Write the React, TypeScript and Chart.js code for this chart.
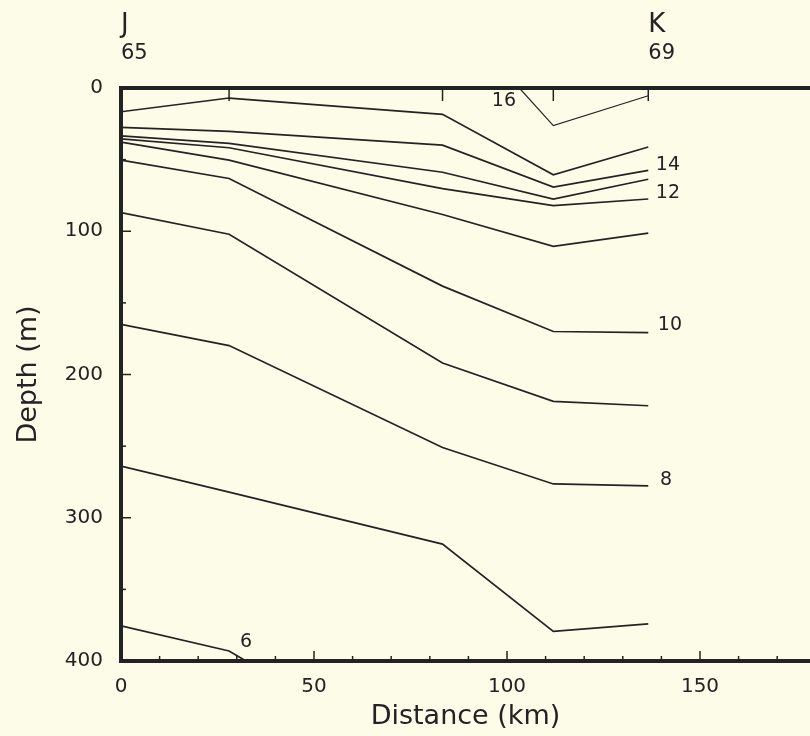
import React, { useEffect, useRef } from 'react';
import { Chart, registerables } from 'chart.js';

Chart.register(...registerables);

// Station positions along the section (km) and their labels
const stations = [0, 28, 83.3, 112, 136.6];
const stationNumbers = ['65', '', '', '', '69'];
const letterStations = [0, 136.6];
const stationLetters = ['J', 'K'];

// Isotherm depths (m) at each station
const iso15 = [16.6, 7.0, 18.4, 60.6, 41.2];
const iso14 = [27.5, 30.3, 39.9, 69.2, 57.5];
const iso13 = [33.4, 38.6, 58.8, 77.5, 63.7];
const iso12 = [35.5, 41.7, 70.2, 82.1, 77.5];
const iso11 = [37.8, 50.3, 88.3, 110.6, 101.3];
const iso10 = [50.3, 63.2, 138.3, 170.0, 170.7];
const iso9 = [87.0, 102.1, 192.0, 218.7, 221.8];
const iso8 = [165.0, 179.8, 251.0, 276.4, 277.7];
const iso7 = [264.0, 282.1, 318.4, 379.3, 374.1];
// partial isotherms
const iso16X = [103.2, 112, 136.6];
const iso16 = [0, 26.2, 5.4];
const iso6X = [0, 28, 32.4];
const iso6 = [375.4, 393, 400];

// Contour labels
const contourLabels = ['16', '14', '12', '10', '8', '6'];
const labelKm = [99.2, 141.7, 141.7, 142.2, 141.2, 32.4];
const labelDepth = [9.4, 53.7, 73.3, 165.4, 273.6, 387];

const X_MAX = 178.5;
const INK = '#232323';
const FONT = 'DejaVu Sans';

function pts(xs: number[], ys: number[]) {
  return xs.map((x, i) => ({ x, y: ys[i] }));
}

export default function App() {
  const ref = useRef<HTMLCanvasElement | null>(null);

  useEffect(() => {
    if (!ref.current) return;
    const series: { x: number[]; y: number[]; w: number }[] = [
      { x: iso16X, y: iso16, w: 1.2 },
      { x: stations, y: iso15, w: 1.7 },
      { x: stations, y: iso14, w: 1.7 },
      { x: stations, y: iso13, w: 1.7 },
      { x: stations, y: iso12, w: 1.7 },
      { x: stations, y: iso11, w: 1.7 },
      { x: stations, y: iso10, w: 1.7 },
      { x: stations, y: iso9, w: 1.7 },
      { x: stations, y: iso8, w: 1.7 },
      { x: stations, y: iso7, w: 1.7 },
      { x: iso6X, y: iso6, w: 1.7 },
    ];

    const decor = {
      id: 'decor',
      afterDatasetsDraw(chart: any) {
        const { ctx, chartArea } = chart;
        const sx = chart.scales.x;
        const sy = chart.scales.y;
        const st = chart.scales.xs;
        ctx.save();
        ctx.strokeStyle = INK;
        ctx.lineWidth = 1.5;
        const line = (x1: number, y1: number, x2: number, y2: number) => {
          ctx.beginPath();
          ctx.moveTo(x1, y1);
          ctx.lineTo(x2, y2);
          ctx.stroke();
        };
        sx.ticks.forEach((t: any) => {
          const px = sx.getPixelForValue(t.value);
          const len = t.value % 50 === 0 ? 10 : 5;
          line(px, chartArea.bottom, px, chartArea.bottom - len);
        });
        sy.ticks.forEach((t: any) => {
          const py = sy.getPixelForValue(t.value);
          const len = t.value % 100 === 0 ? 10 : 5;
          line(chartArea.left, py, chartArea.left + len, py);
        });
        st.ticks.forEach((t: any) => {
          const px = st.getPixelForValue(t.value);
          line(px, chartArea.top, px, chartArea.top + 13);
        });
        ctx.fillStyle = INK;
        ctx.font = `19px "${FONT}"`;
        ctx.textAlign = 'center';
        ctx.textBaseline = 'middle';
        contourLabels.forEach((lab, i) => {
          ctx.fillText(lab, sx.getPixelForValue(labelKm[i]), sy.getPixelForValue(labelDepth[i]));
        });
        ctx.restore();
      },
    };

    const chart = new Chart(ref.current, {
      type: 'scatter',
      data: {
        datasets: series.map((s) => ({
          data: pts(s.x, s.y),
          showLine: true,
          borderColor: INK,
          borderWidth: s.w,
          pointRadius: 0,
          tension: 0,
          fill: false,
        })),
      },
      options: {
        animation: false,
        responsive: false,
        devicePixelRatio: 1,
        layout: { padding: 0 },
        plugins: { legend: { display: false }, tooltip: { enabled: false } },
        scales: {
          x: {
            type: 'linear',
            position: 'bottom',
            min: 0,
            max: X_MAX,
            grid: { display: false, drawTicks: false },
            border: { display: true, width: 4, color: INK },
            ticks: {
              stepSize: 10,
              autoSkip: false,
              maxRotation: 0,
              includeBounds: false,
              padding: 14,
              color: INK,
              font: { family: FONT, size: 20 },
              callback: (v: any) => (Number(v) % 50 === 0 ? String(v) : ''),
            },
            title: {
              display: true,
              text: 'Distance (km)',
              color: INK,
              font: { family: FONT, size: 27 },
              padding: { top: 0, bottom: 3 },
            },
            afterFit: (s: any) => {
              s.height = 75;
            },
          },
          xs: {
            type: 'linear',
            position: 'top',
            weight: 0,
            min: 0,
            max: X_MAX,
            grid: { display: false, drawTicks: false },
            border: { display: true, width: 4, color: INK },
            afterBuildTicks: (s: any) => {
              s.ticks = stations.map((v) => ({ value: v }));
            },
            ticks: {
              autoSkip: false,
              maxRotation: 0,
              align: 'start',
              padding: 22,
              color: INK,
              font: { family: FONT, size: 21 },
              callback: (_v: any, i: number) => stationNumbers[i],
            },
            afterFit: (s: any) => {
              s.height = 47;
            },
          },
          xl: {
            type: 'linear',
            position: 'top',
            weight: 1,
            min: 0,
            max: X_MAX,
            grid: { display: false, drawTicks: false },
            border: { display: false },
            afterBuildTicks: (s: any) => {
              s.ticks = letterStations.map((v) => ({ value: v }));
            },
            ticks: {
              autoSkip: false,
              maxRotation: 0,
              align: 'start',
              padding: 0,
              color: INK,
              font: { family: FONT, size: 26 },
              callback: (_v: any, i: number) => stationLetters[i],
            },
            afterFit: (s: any) => {
              s.height = 41;
            },
          },
          y: {
            type: 'linear',
            position: 'left',
            reverse: true,
            min: 0,
            max: 400,
            grid: { display: false, drawTicks: false },
            border: { display: true, width: 4, color: INK },
            ticks: {
              stepSize: 50,
              autoSkip: false,
              padding: 18,
              color: INK,
              font: { family: FONT, size: 20 },
              callback: (v: any) => (Number(v) % 100 === 0 ? String(v) : ''),
            },
            title: {
              display: true,
              text: 'Depth (m)',
              color: INK,
              font: { family: FONT, size: 27 },
              padding: { top: 13, bottom: 0 },
            },
            afterFit: (s: any) => {
              s.width = 121;
            },
          },
        },
      },
      plugins: [decor],
    } as any);
    return () => chart.destroy();
  }, []);

  return (
    <div
      style={{
        position: 'fixed',
        left: 0,
        top: 0,
        width: 810,
        height: 736,
        background: '#fdfce8',
      }}
    >
      <canvas ref={ref} width={810} height={736} style={{ width: 810, height: 736, display: 'block' }} />
    </div>
  );
}
